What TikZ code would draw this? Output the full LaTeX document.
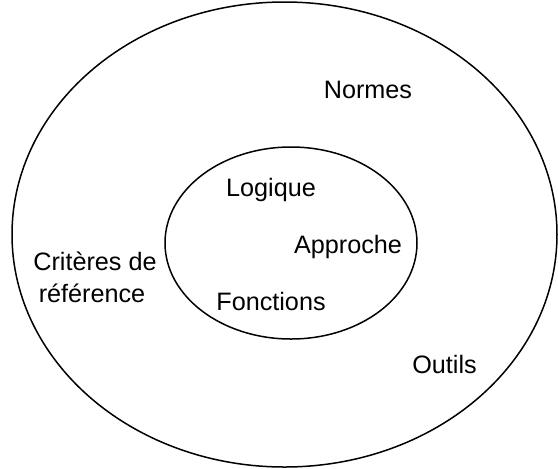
\documentclass[tikz,border=0pt]{standalone}
\usepackage{fontspec}
\setmainfont{Liberation Sans}
\begin{document}
\begin{tikzpicture}[x=0.5pt,y=-0.5pt,line width=0.75pt,
		every node/.style={font=\fontsize{12.6}{15.5}\selectfont,anchor=base,inner sep=0pt}]
		\useasboundingbox (0,0) rectangle (558,468);
		\draw (284.5,234.5) ellipse (272.5 and 232.5);
		\draw (291,243) ellipse (126 and 96);
		\node (normes) at (368,98) {Normes};
		\node (logique) at (271,196) {Logique};
		\node (approche) at (348,253) {Approche};
		\node (fonctions) at (271,310) {Fonctions};
		\node (criteres) at (95,270) {Critères de};
		\node (reference) at (92,302) {référence};
		\node (outils) at (444.5,373) {Outils};
	\end{tikzpicture}
\end{document}
